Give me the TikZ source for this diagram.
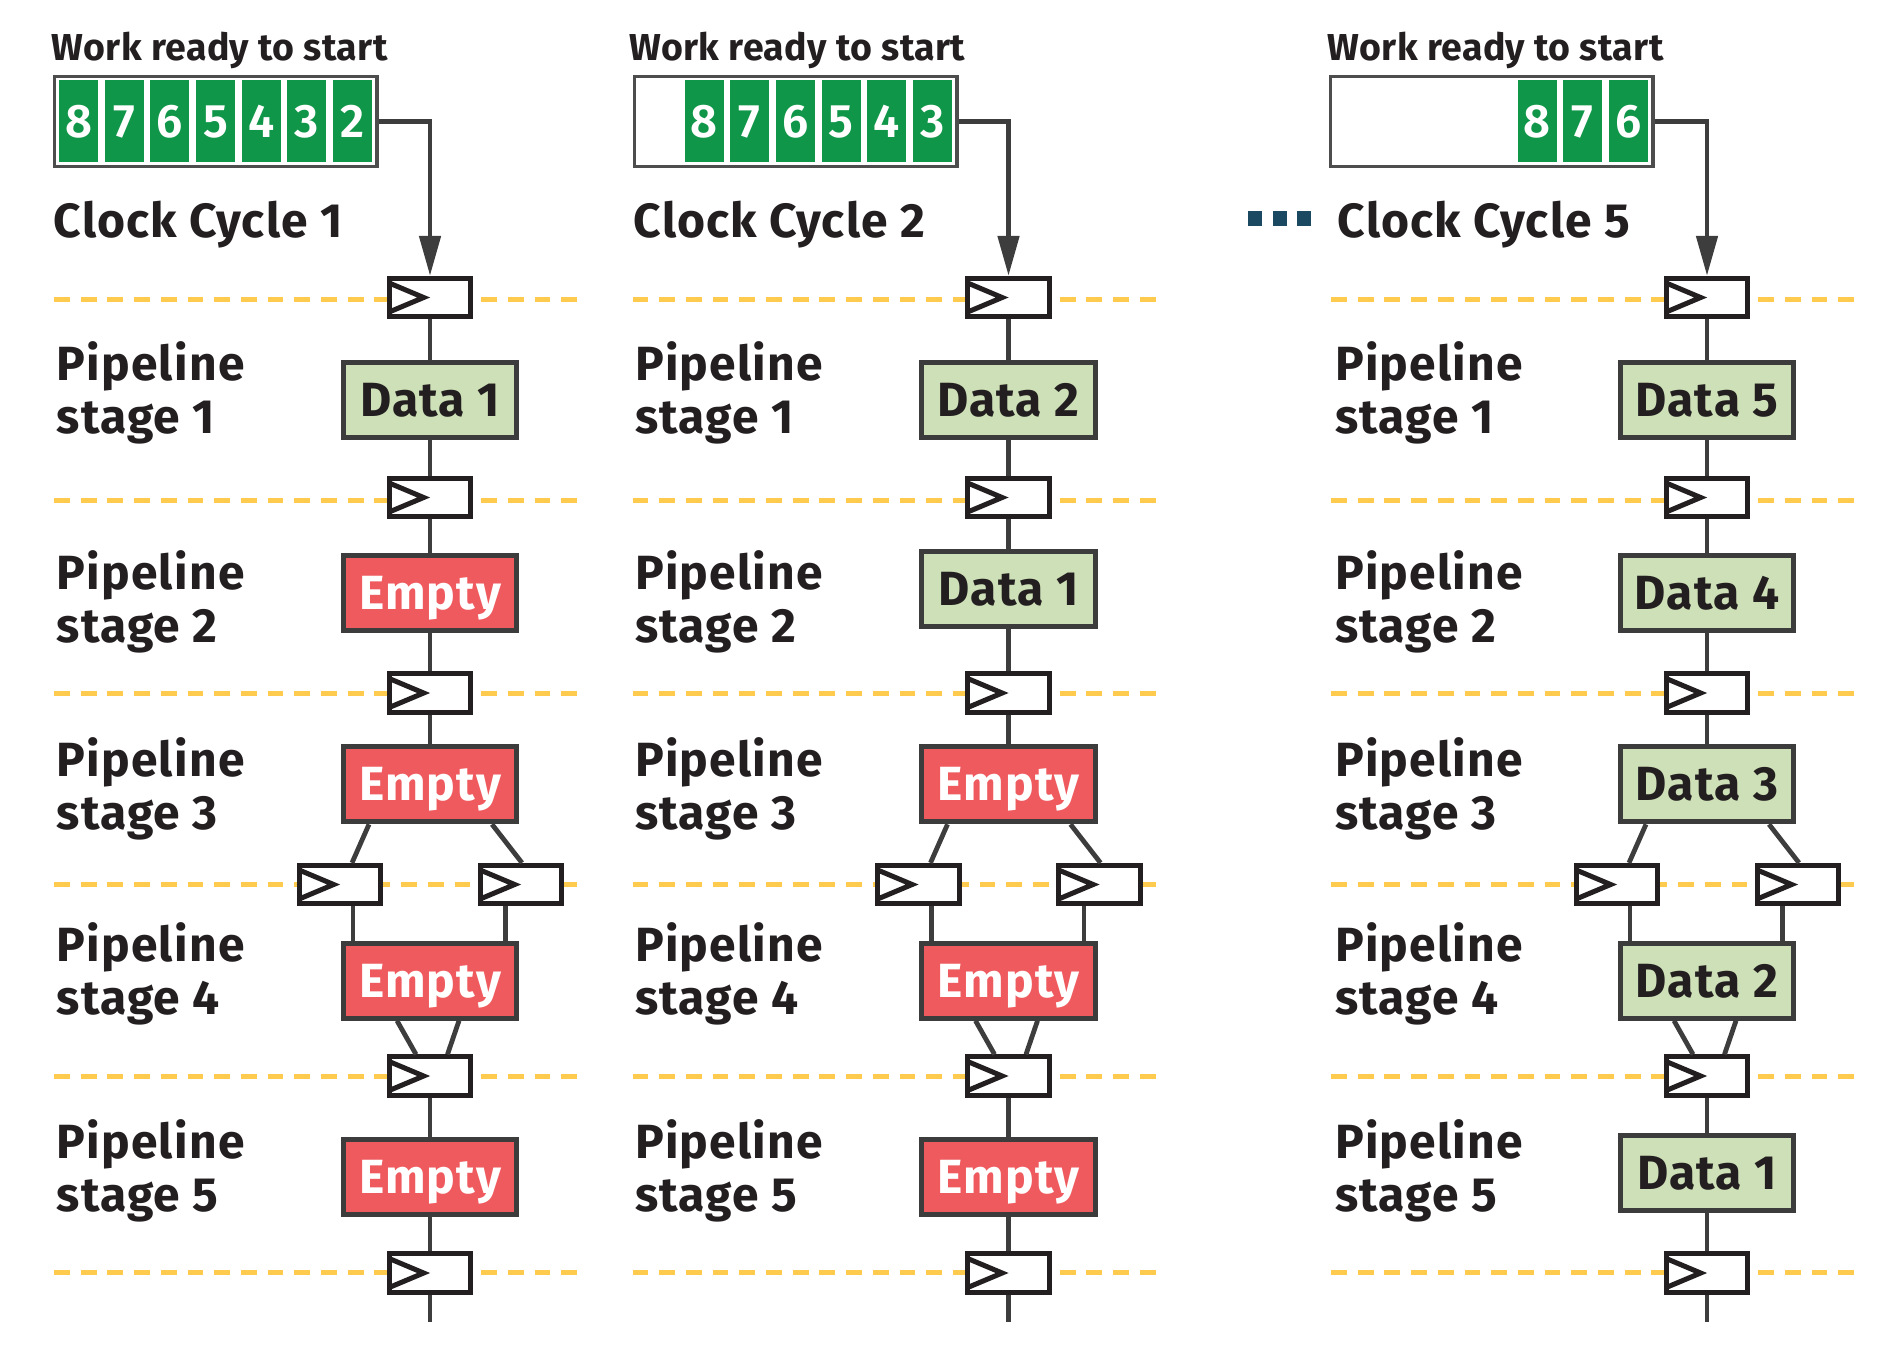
\documentclass[tikz,border=0pt]{standalone}
\usepackage{fontspec}
\setmainfont{Fira Sans Bold}[LetterSpace=2.5]
\newfontfamily\hdrfont{Fira Sans Bold}[LetterSpace=1.0]
\newfontfamily\digitfont{Fira Sans SemiBold}
\usetikzlibrary{arrows.meta,calc}
\definecolor{ink}{HTML}{231F20}
\definecolor{wirecol}{HTML}{3D3D3D}
\definecolor{boxline}{HTML}{3C3C3C}
\definecolor{queueline}{HTML}{4D4D4D}
\definecolor{dashcol}{HTML}{FFCB4F}
\definecolor{cellgreen}{HTML}{0F9648}
\definecolor{datafill}{HTML}{CEE0B7}
\definecolor{emptyfill}{HTML}{EF5A5E}
\definecolor{teal}{HTML}{1A4961}
\tikzset{
  lbl/.style={anchor=base west, inner sep=0pt, font=\fontsize{48}{53}\selectfont, text=ink},
  hdr/.style={anchor=base west, inner sep=0pt, font=\hdrfont\fontsize{37.5}{44}\selectfont, text=ink},
  stagebox/.style={draw=boxline, line width=5pt, minimum width=173.3pt, minimum height=75pt,
    inner sep=0pt, font=\fontsize{48}{53}\selectfont, text height=33pt, text depth=0pt},
  databox/.style={stagebox, fill=datafill, text=ink},
  emptybox/.style={stagebox, fill=emptyfill, text=white},
  ffbox/.style={draw=ink, fill=white, line width=5pt, minimum width=81.7pt, minimum height=38.3pt, inner sep=0pt},
  chevron/.style={draw=ink, line width=5pt},
  wire/.style={draw=wirecol, line width=4.8pt},
  clockline/.style={draw=dashcol, line width=5pt, dash pattern=on 15.8pt off 10.9pt},
  queuebox/.style={draw=queueline, line width=3.2pt, fill=white, minimum width=322.3pt, minimum height=89.8pt, inner sep=0pt},
  cellbox/.style={fill=cellgreen, minimum width=39pt, minimum height=82pt, inner sep=0pt, text=white,
    font=\digitfont\fontsize{47}{52}\selectfont, text height=32.5pt, text depth=0pt},
  dotbox/.style={fill=teal, minimum width=14pt, minimum height=14.5pt, inner sep=0pt},
}
% flip-flop: name, x, y
\newcommand\flipflop[3]{%
  \node[ffbox] (#1) at ({#2},{#3}) {};
  \draw[chevron] ($(#1.west)+(2.5,-14.5)$) -- ($(#1.west)+(37,0)$) -- ($(#1.west)+(2.5,14.5)$);
}
% frame of one column: prefix, centre x, label x
\newcommand\pipeframe[3]{%
  \foreach \yy in {299,500,693.3,884.3,1076.7,1272.3}
    \draw[clockline] ({#2-376},\yy) -- ({#2+148},\yy);
  \foreach \yy/\n in {380/1,589/2,776/3,961/4,1158/5} {
    \node[lbl] (#1lp\n) at (#3,\yy) {Pipeline};
    \node[lbl] (#1ls\n) at (#3,{\yy+53}) {stage \n};
  }
  \flipflop{#1f1}{#2}{297.5}
  \flipflop{#1f2}{#2}{497.5}
  \flipflop{#1f3}{#2}{693}
  \flipflop{#1f4a}{#2-90}{884.5}
  \flipflop{#1f4b}{#2+91}{884.5}
  \flipflop{#1f5}{#2}{1076}
  \flipflop{#1f6}{#2}{1273}
  \coordinate (#1end) at ({#2},1322);
}
% wires of one column: prefix
\newcommand\pipewires[1]{%
  \draw[wire, -{Triangle[length=40pt,width=21pt]}] (#1q.east) -| (#1f1.north);
  \draw[wire] (#1f1.south) -- (#1b1.north);
  \draw[wire] (#1b1.south) -- (#1f2.north);
  \draw[wire] (#1f2.south) -- (#1b2.north);
  \draw[wire] (#1b2.south) -- (#1f3.north);
  \draw[wire] (#1f3.south) -- (#1b3.north);
  \draw[wire] ([xshift=-61pt]#1b3.south) -- ([xshift=12pt]#1f4a.north);
  \draw[wire] ([xshift=62pt]#1b3.south) -- ([xshift=1pt]#1f4b.north);
  \draw[wire] ([xshift=13pt]#1f4a.south) -- ([xshift=-77pt]#1b4.north);
  \draw[wire] ([xshift=-15.5pt]#1f4b.south) -- ([xshift=75.5pt]#1b4.north);
  \draw[wire] ([xshift=-33pt]#1b4.south) -- ([xshift=-14pt]#1f5.north);
  \draw[wire] ([xshift=29pt]#1b4.south) -- ([xshift=17.5pt]#1f5.north);
  \draw[wire] (#1f5.south) -- (#1b5.north);
  \draw[wire] (#1b5.south) -- (#1f6.north);
  \draw[wire] (#1f6.south) -- (#1end);
}
\begin{document}
\begin{tikzpicture}[x=1pt,y=-1pt]
\useasboundingbox (0,0) rectangle (1899,1368);

% ---------------- Column 1 ----------------
\node[hdr] (aw) at (51.5,60) {Work ready to start};
\node[queuebox] (aq) at ({53+162.75},121.7) {};
\foreach \d/\s in {8/0,7/1,6/2,5/3,4/4,3/5,2/6}
  \node[cellbox] (ac\d) at ({53+25.5+45.65*\s},121) {\d};
\node[lbl] (acc) at (53.5,237.3) {Clock Cycle 1};
\pipeframe{a}{430}{56.5}
\node[databox]  (ab1) at (430,400)   {Data 1};
\node[emptybox] (ab2) at (430,592.7) {Empty};
\node[emptybox] (ab3) at (430,784.3) {Empty};
\node[emptybox] (ab4) at (430,980.7) {Empty};
\node[emptybox] (ab5) at (430,1176.7) {Empty};
\pipewires{a}

% ---------------- Column 2 ----------------
\node[hdr] (bw) at (629.2,60) {Work ready to start};
\node[queuebox] (bq) at ({633+162.75},121.7) {};
\foreach \d/\s in {8/1,7/2,6/3,5/4,4/5,3/6}
  \node[cellbox] (bc\d) at ({633+25.5+45.65*\s},121) {\d};
\node[lbl] (bcc) at (633.5,237.3) {Clock Cycle 2};
\pipeframe{b}{1008.5}{634.9}
\node[databox]  (bb1) at (1008.5,400)   {Data 2};
\node[databox]  (bb2) at (1008.5,588.8) {Data 1};
\node[emptybox] (bb3) at (1008.5,784.3) {Empty};
\node[emptybox] (bb4) at (1008.5,980.7) {Empty};
\node[emptybox] (bb5) at (1008.5,1176.7) {Empty};
\pipewires{b}

% ---------------- Column 3 ----------------
\node[dotbox] (d1) at (1255.3,218.3) {};
\node[dotbox] (d2) at (1279.5,218.3) {};
\node[dotbox] (d3) at (1303.7,218.3) {};
\node[hdr] (cw) at (1327.5,60) {Work ready to start};
\node[queuebox] (cq) at ({1329+162.75},121.7) {};
\foreach \d/\s in {8/4,7/5,6/6}
  \node[cellbox] (cc\d) at ({1329+25.5+45.65*\s},121) {\d};
\node[lbl] (ccc) at (1337.5,237.3) {Clock Cycle 5};
\pipeframe{c}{1707}{1334.9}
\node[databox] (cb1) at (1707,400)   {Data 5};
\node[databox] (cb2) at (1707,592.7) {Data 4};
\node[databox] (cb3) at (1707,784.3) {Data 3};
\node[databox] (cb4) at (1707,980.7) {Data 2};
\node[databox] (cb5) at (1707,1172.8) {Data 1};
\pipewires{c}
\end{tikzpicture}
\end{document}
